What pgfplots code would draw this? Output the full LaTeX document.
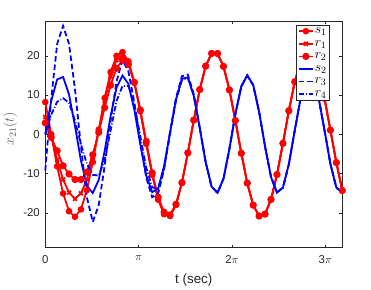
\RequirePackage{fix-cm}
\documentclass[border=0pt]{standalone}
\usepackage{fontspec}
\setmainfont{Liberation Sans}
\usepackage{pgfplots}
\usepackage{pgfplotstable}
\pgfplotsset{compat=1.18}
\usetikzlibrary{calc}
\definecolor{axgray}{rgb}{0.15,0.15,0.15}

\pgfplotstableread{
t    s1     r1     r2     s2     r3     r4
0.0  8.21   4.4    2.9    0.00   -9.2   0.0
0.2  0.03   -0.5   -0.8   8.47   9.0    5.0
0.4  -8.15  -6.5   -4.2   13.98  23.0   8.3
0.6  -15.04 -11.5  -8.0   14.61  27.6   9.2
0.8  -19.56 -14.8  -10.1  10.13  23.0   8.0
1.0  -20.99 -16.4  -11.5  2.12   11.5   3.5
1.2  -19.11 -15.0  -11.5  -6.64  -3.0   -2.5
1.4  -14.20 -11.5  -9.6   -13.07 -16.0  -7.5
1.6  -7.06  -5.8   -5.2   -14.94 -22.3  -10.3
1.8  1.19   1.0    0.5    -11.59 -18.0  -10.5
2.0  9.26   8.5    6.8    -4.19  -8.0   -6.5
2.2  15.87  14.8   12.5   4.67   3.5    1.0
2.4  19.97  18.9   16.8   11.91  13.5   8.5
2.6  20.92  20.2   18.9   14.98  18.9   12.3
2.8  18.57  18.1   17.8   12.82  16.0   12.3
3.0  13.29  13.0   13.2   6.18   8.0    7.5
3.2  5.90   5.8    6.2    -2.61  -2.0   -0.5
3.4  -2.41  -2.4   -1.8   -10.50 -11.0  -8.5
3.6  -10.34 -10.2  -9.8   -14.71 -16.0  -13.5
3.8  -16.63 -16.5  -16.0  -13.79 -15.0  -13.8
4.0  -20.32 -20.2  -19.8  -8.05  -9.0   -8.5
4.2  -20.78 -20.7  -20.5  0.50   0.5    0.0
4.4  -17.95 -17.95 -17.8  8.88   9.2    8.5
4.6  -12.31 -12.31 -12.3  14.16  14.8   13.8
4.8  -4.72  -4.72  -4.72  14.49  15.2   14.4
5.0  3.63   3.63   3.63   9.75   10.2   9.8
5.2  11.40  11.40  11.40  1.62   1.8    1.62
5.4  17.36  17.36  17.36  -7.09  -7.1   -7.09
5.6  20.59  20.59  20.59  -13.31 -13.31 -13.31
5.8  20.57  20.57  20.57  -14.89 -14.89 -14.89
6.0  17.29  17.29  17.29  -11.27 -11.27 -11.27
6.2  11.30  11.30  11.30  -3.70  -3.70  -3.70
6.4  3.52   3.52   3.52   5.15   5.15   5.15
6.6  -4.82  -4.82  -4.82  12.21  12.21  12.21
6.8  -12.40 -12.40 -12.40 15.00  15.00  15.00
7.0  -18.01 -18.01 -18.01 12.55  12.55  12.55
7.2  -20.79 -20.79 -20.79 5.72   5.72   5.72
7.4  -20.29 -20.29 -20.29 -3.11  -3.11  -3.11
7.6  -16.57 -16.57 -16.57 -10.85 -10.85 -10.85
7.8  -10.25 -10.25 -10.25 -14.80 -14.80 -14.80
8.0  -2.30  -2.30  -2.30  -13.58 -13.58 -13.58
8.2  6.01   6.01   6.01   -7.62  -7.62  -7.62
8.4  13.37  13.37  13.37  1.01   1.01   1.01
8.6  18.62  18.62  18.62  9.28   9.28   9.28
8.8  20.93  20.93  20.93  14.31  14.31  14.31
9.0  19.94  19.94  19.94  14.35  14.35  14.35
9.2  15.81  15.81  15.81  9.37   9.37   9.37
9.4  9.16   9.16   9.16   1.11   1.11   1.11
9.6  1.07   1.07   1.07   -7.53  -7.53  -7.53
9.8  -7.18  -7.18  -7.18  -13.54 -13.54 -13.54
10.0 -14.29 -14.29 -14.29 -14.82 -14.82 -14.82
}\data

\begin{document}
\begin{tikzpicture}
\begin{axis}[name=ax, at={(0,0)}, anchor=south west,
  scale only axis, width=300pt, height=229pt,
  xmin=0, xmax=10, ymin=-28.8, ymax=28.9, clip=false,
  xtick={0,3.14159,6.28319,9.42478}, xticklabels={0,$\pi$,2$\pi$,3$\pi$},
  ytick={-20,-10,0,10,20}, yticklabels={-20,-10,0,10,20},
  tick align=inside, xtick pos=both, ytick pos=both, major tick length=3pt,
  axis line style={axgray, line width=0.5pt},
  every tick/.style={axgray, line width=0.5pt},
  every tick label/.append style={font=\fontsize{11.5}{13}\selectfont, text=axgray},
  xticklabel style={yshift=-5pt},
  yticklabel style={xshift=-2pt},
  xlabel={t (sec)}, ylabel={$x_{21}(t)$},
  xlabel style={font=\fontsize{13.5}{15}\selectfont, text=axgray, at={(axis description cs:0.5,-0.145)}, anchor=center},
  ylabel style={font=\fontsize{14}{16}\selectfont, text=axgray!75, at={(axis description cs:-0.118,0.524)}, anchor=center},
  legend style={at={(1,1)}, anchor=north east, xshift=-13pt, yshift=-4pt, draw=axgray, line width=0.5pt,
    font=\fontsize{14}{16}\selectfont, inner sep=1.5pt, row sep=3.2pt,
    nodes={inner sep=1pt}},
  legend cell align=left,
  legend image code/.code={\draw[mark repeat=2,mark phase=2,#1] plot coordinates {(0cm,0cm) (0.25cm,0cm) (0.5cm,0cm)};},
]
\addplot[red, line width=1.8pt, mark=*, mark size=2.4pt] table[x=t, y=s1] {\data};
\addlegendentry{$s_1$}
\addplot[red, line width=1.8pt, mark=x, mark size=2.8pt] table[x=t, y=r1] {\data};
\addlegendentry{$r_1$}
\addplot[red, line width=1.8pt, mark=*, mark size=2.7pt] table[x=t, y=r2] {\data};
\addlegendentry{$r_2$}
\addplot[blue, line width=1.8pt, solid] table[x=t, y=s2] {\data};
\addlegendentry{$s_2$}
\addplot[blue, line width=1.8pt, dash pattern=on 5.5pt off 3pt] table[x=t, y=r3] {\data};
\addlegendentry{$r_3$}
\addplot[blue, line width=1.8pt, dash pattern=on 5.5pt off 2pt on 1pt off 2pt] table[x=t, y=r4] {\data};
\addlegendentry{$r_4$}
\end{axis}
\path ($(ax.south west)+(-42pt,-39pt)$) rectangle ($(ax.north east)+(29pt,21pt)$);
\end{tikzpicture}
\end{document}
